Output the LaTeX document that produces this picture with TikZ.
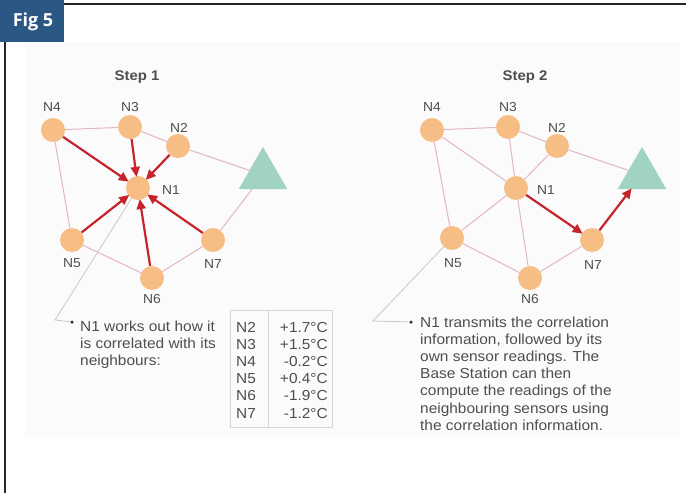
\documentclass[tikz,border=0pt]{standalone}
\usepackage{fontspec}
\setmainfont{Liberation Sans}[FakeStretch=1.065]
\newfontfamily\figfont{Open Sans}
\usetikzlibrary{arrows.meta,shapes.geometric}
\definecolor{figblue}{RGB}{42,87,131}
\definecolor{peach}{RGB}{246,190,132}
\definecolor{bsgreen}{RGB}{160,212,192}
\definecolor{linkpink}{RGB}{226,182,194}
\definecolor{arrred}{RGB}{198,36,44}
\definecolor{txtgrey}{RGB}{78,78,78}
\definecolor{callgrey}{RGB}{200,200,200}
\definecolor{panelgrey}{RGB}{251,251,251}
\definecolor{tblgrey}{RGB}{214,214,214}
\tikzset{
  sensor/.style={circle, fill=peach, minimum size=24pt, inner sep=0pt},
  basestn/.style={regular polygon, regular polygon sides=3, fill=bsgreen, minimum size=56pt, inner sep=0pt},
  lbl/.style={text=txtgrey, font=\fontsize{13}{16}\selectfont, inner sep=0pt},
  ttl/.style={text=txtgrey, font=\bfseries\fontsize{14}{16}\selectfont, inner sep=0pt},
  body/.style={text=txtgrey, font=\fontsize{14.5}{17}\selectfont, inner sep=0pt, anchor=base west},
  link/.style={draw=linkpink, line width=1pt},
  redarrow/.style={draw=arrred, line width=2.2pt, -{Triangle[length=10pt,width=9pt]}, shorten >=-1pt},
  callout/.style={draw=callgrey, line width=0.8pt},
  bullet/.style={circle, fill=black!80, minimum size=3.5pt, inner sep=0pt},
  frameline/.style={draw=black!85, line width=1.8pt},
}
\begin{document}
\begin{tikzpicture}[x=1pt,y=-1pt]
\useasboundingbox (0,0) rectangle (686,493);
% panel and frame
\fill[panelgrey] (25,42) rectangle (680,437);
\fill[figblue] (0,0) rectangle (64,42);
\node[text=white, font=\figfont\bfseries\fontsize{18}{20}\selectfont, inner sep=0pt] (figlabel) at (33,22) {Fig 5};
\draw[frameline] (64,4) -- (686,4);
\draw[frameline] (5,42) -- (5,493);

% ---------- Step 1 ----------
\node[ttl] (t1) at (137,77) {Step 1};
\node[sensor] (a1) at (138,188) {};
\node[sensor] (a2) at (178,146) {};
\node[sensor] (a3) at (130,127) {};
\node[sensor] (a4) at (53,130) {};
\node[sensor] (a5) at (72,240) {};
\node[sensor] (a6) at (152,278) {};
\node[sensor] (a7) at (213,240) {};
\node[basestn] (bs1) at (263,175) {};
\node[lbl] (la1) at (171,190) {N1};
\node[lbl] (la2) at (179,128) {N2};
\node[lbl] (la3) at (130,107) {N3};
\node[lbl] (la4) at (52,107) {N4};
\node[lbl] (la5) at (72,263) {N5};
\node[lbl] (la6) at (152,299) {N6};
\node[lbl] (la7) at (213,264) {N7};
\draw[link] (a4) -- (a3);
\draw[link] (a3) -- (a2);
\draw[link] (a2) -- (bs1);
\draw[link] (a4) -- (a5);
\draw[link] (a5) -- (a6);
\draw[link] (a6) -- (a7);
\draw[link] (a7) -- (bs1);
\coordinate (c1) at (55,320);
\node[bullet] (b1) at (72,322) {};
\draw[callout] (a1) -- (c1) -- (b1);
\draw[redarrow] (a4) -- (a1);
\draw[redarrow] (a3) -- (a1);
\draw[redarrow] (a2) -- (a1);
\draw[redarrow] (a5) -- (a1);
\draw[redarrow] (a6) -- (a1);
\draw[redarrow] (a7) -- (a1);
\node[body] (s1l1) at (80,331) {N1 works out how it};
\node[body] (s1l2) at (80,348) {is correlated with its};
\node[body] (s1l3) at (80,365) {neighbours:};
% table
\draw[draw=tblgrey, line width=0.8pt] (230,310) rectangle (332,427);
\draw[draw=tblgrey, line width=0.8pt] (268,310) -- (268,427);
\foreach \nm/\val [count=\i from 0] in {N2/+1.7°C, N3/+1.5°C, N4/-0.2°C, N5/+0.4°C, N6/-1.9°C, N7/-1.2°C}{
  \node[body] (tn\i) at (236,332+17.2*\i) {\nm};
  \node[body, anchor=base east] (tv\i) at (328,332+17.2*\i) {\val};
}

% ---------- Step 2 ----------
\node[ttl] (t2) at (525,77) {Step 2};
\node[sensor] (b1n) at (516,188) {};
\node[sensor] (b2n) at (557,146) {};
\node[sensor] (b3n) at (508,127) {};
\node[sensor] (b4n) at (432,130) {};
\node[sensor] (b5n) at (452,238) {};
\node[sensor] (b6n) at (530,278) {};
\node[sensor] (b7n) at (592,240) {};
\node[basestn] (bs2) at (642,175) {};
\node[lbl] (lb1) at (546,190) {N1};
\node[lbl] (lb2) at (557,128) {N2};
\node[lbl] (lb3) at (508,107) {N3};
\node[lbl] (lb4) at (432,107) {N4};
\node[lbl] (lb5) at (453,263) {N5};
\node[lbl] (lb6) at (530,299) {N6};
\node[lbl] (lb7) at (593,265) {N7};
\draw[link] (b4n) -- (b3n);
\draw[link] (b3n) -- (b2n);
\draw[link] (b2n) -- (bs2);
\draw[link] (b4n) -- (b5n);
\draw[link] (b5n) -- (b6n);
\draw[link] (b6n) -- (b7n);
\draw[link] (b4n) -- (b1n);
\draw[link] (b3n) -- (b1n);
\draw[link] (b2n) -- (b1n);
\draw[link] (b5n) -- (b1n);
\draw[link] (b6n) -- (b1n);
\coordinate (c2) at (373,321);
\node[bullet] (b2) at (411,322) {};
\draw[callout] (b5n) -- (c2) -- (b2);
\draw[redarrow] (b1n) -- (b7n);
\draw[redarrow] (b7n) -- (bs2);
\foreach \txt [count=\i from 0] in {N1 transmits the correlation, {information, followed by its}, own sensor readings. The, Base Station can then, compute the readings of the, neighbouring sensors using, the correlation information.}{
  \node[body] (s2l\i) at (420,327+17.2*\i) {\txt};
}
\end{tikzpicture}
\end{document}
